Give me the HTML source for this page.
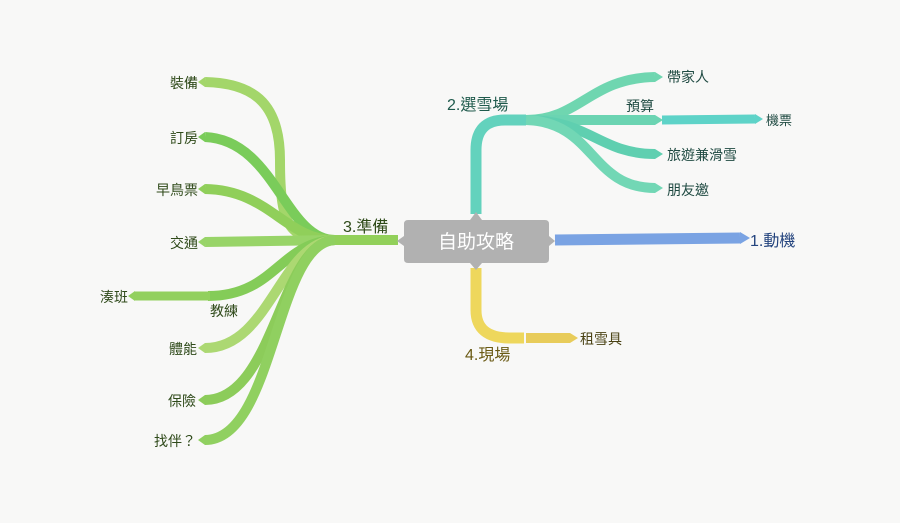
<!DOCTYPE html>
<html><head><meta charset="utf-8"><style>
html,body{margin:0;padding:0;background:#f8f8f7;}
svg{display:block;}
text{font-family:"Liberation Sans","Noto Sans CJK TC",sans-serif;}
</style></head><body>
<svg width="900" height="523" viewBox="0 0 900 523" xmlns="http://www.w3.org/2000/svg">
<g fill="none" stroke-linecap="butt">
<path d="M555 240 L740 238" stroke="#7aa3e3" stroke-width="11"/>
<path d="M476 214 L476 150 Q476 120 505 120 L526 120" stroke="#63d2bd" stroke-width="11"/>
<path d="M526 120 C580 120 590 78 655 77" stroke="#6fd6b0" stroke-width="10"/>
<path d="M526 120 L655 120" stroke="#6bd4b2" stroke-width="10"/>
<path d="M662 120 L755 119" stroke="#5ed3c8" stroke-width="9"/>
<path d="M526 120 C590 120 600 154 655 154" stroke="#5fcfb0" stroke-width="10"/>
<path d="M526 120 C595 122 590 188 655 188" stroke="#72d7b5" stroke-width="10"/>
<path d="M476 268 L476 310 Q476 338 510 338 L524 338" stroke="#eed75c" stroke-width="11"/>
<path d="M526 338 L570 338" stroke="#e8cc5a" stroke-width="10"/>
<path d="M398 240 L335 240" stroke="#92d05a" stroke-width="10"/>
<path d="M335 240 C290 240 280 230 280 160 C280 100 250 83 205 82" stroke="#a3d66a" stroke-width="10"/>
<path d="M335 240 C285 240 275 140 205 137" stroke="#7acc5a" stroke-width="10"/>
<path d="M335 240 C285 240 270 190 205 189" stroke="#90cf5a" stroke-width="10"/>
<path d="M335 240 L205 242" stroke="#98d468" stroke-width="10"/>
<path d="M335 240 C280 242 275 296 208 296" stroke="#84cc58" stroke-width="10"/>
<path d="M210 296 L135 296" stroke="#92d05e" stroke-width="9"/>
<path d="M335 240 C280 242 270 348 205 348" stroke="#acd872" stroke-width="10"/>
<path d="M335 240 C280 242 275 400 205 400" stroke="#8ccc5a" stroke-width="10"/>
<path d="M335 240 C275 242 275 440 205 440" stroke="#90d060" stroke-width="10"/>
</g>
<g>
<polygon points="740,232 750,238 740,244" fill="#7aa3e3"/>
<polygon points="655,72 663,77 655,82" fill="#6fd6b0"/>
<polygon points="655,115 663,120 655,125" fill="#6bd4b2"/>
<polygon points="755,114 763,119 755,124" fill="#5ed3c8"/>
<polygon points="655,149 663,154 655,159" fill="#5fcfb0"/>
<polygon points="655,183 663,188 655,193" fill="#72d7b5"/>
<polygon points="570,333 578,338 570,343" fill="#e8cc5a"/>
<polygon points="205,77 198,82 205,87" fill="#a3d66a"/>
<polygon points="205,132 198,137 205,142" fill="#7acc5a"/>
<polygon points="205,184 198,189 205,194" fill="#90cf5a"/>
<polygon points="205,237 198,242 205,247" fill="#98d468"/>
<polygon points="135,291 128,296 135,301" fill="#92d05e"/>
<polygon points="205,343 198,348 205,353" fill="#acd872"/>
<polygon points="205,395 198,400 205,405" fill="#8ccc5a"/>
<polygon points="205,435 198,440 205,445" fill="#90d060"/>
</g>
<path d="M408 220 L470 220 L476 212 L482 220 L545 220 Q549 220 549 224 L549 236 L555 241 L549 246 L549 259 Q549 263 545 263 L482 263 L476 270 L470 263 L408 263 Q404 263 404 259 L404 246 L397 241 L404 236 L404 224 Q404 220 408 220 Z" fill="#b1b1b1"/>
<text x="476" y="248" font-size="19" fill="#fff" text-anchor="middle">自助攻略</text>
<text x="750" y="246" font-size="16" fill="#24447e">1.動機</text>
<text x="447" y="110" font-size="16" fill="#1f5a4c">2.選雪場</text>
<g font-size="14" fill="#1f4a42">
<text x="667" y="82">帶家人</text>
<text x="626" y="111">預算</text>
<text x="766" y="125" font-size="13">機票</text>
<text x="667" y="160">旅遊兼滑雪</text>
<text x="667" y="195">朋友邀</text>
</g>
<text x="465" y="360" font-size="16" fill="#6a5a14">4.現場</text>
<text x="580" y="344" font-size="14" fill="#4a4214">租雪具</text>
<text x="343" y="232" font-size="16" fill="#2e4a18">3.準備</text>
<g font-size="14" fill="#2f4a1a" text-anchor="end">
<text x="198" y="88">裝備</text>
<text x="198" y="143">訂房</text>
<text x="198" y="195">早鳥票</text>
<text x="198" y="248">交通</text>
<text x="128" y="302">湊班</text>
<text x="197" y="354">體能</text>
<text x="196" y="406">保險</text>
<text x="196" y="446">找伴？</text>
</g>
<text x="210" y="316" font-size="14" fill="#2f4a1a">教練</text>
</svg>
</body></html>
